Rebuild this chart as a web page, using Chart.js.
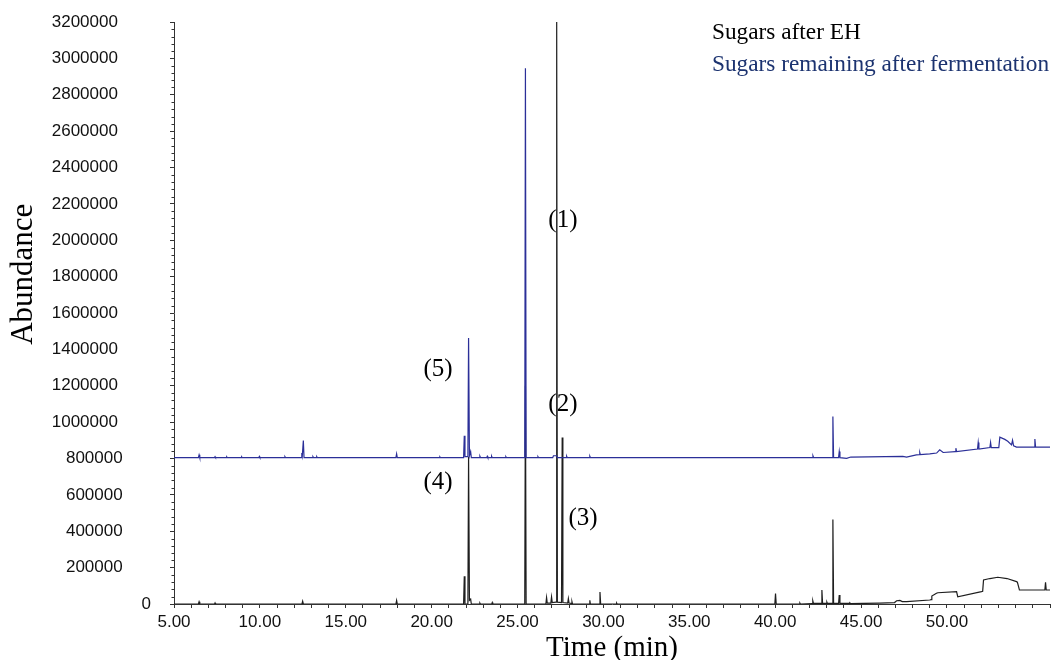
<!DOCTYPE html>
<html><head><meta charset="utf-8">
<script src="https://cdn.jsdelivr.net/npm/chart.js@4.4.1/dist/chart.umd.min.js"></script>
<style>html,body{margin:0;padding:0;background:#fff;}#wrap{width:1052px;height:660px;}</style>
</head><body><div id="wrap"><canvas id="c" width="1052" height="660"></canvas></div>
<script>
// ---- data ----
const seriesNames = ['Sugars after EH', 'Sugars remaining after fermentation'];

const blackTime = [5.00,6.42,6.46,6.50,7.36,7.39,7.42,12.45,12.49,12.53,17.92,17.96,18.00,
  21.86,21.90,21.94,22.11,22.15,22.20,22.27,22.31,22.78,22.81,22.84,23.50,23.53,23.56,
  25.42,25.46,25.50,26.65,26.69,26.73,26.94,26.98,27.02,27.24,27.28,27.32,27.56,27.60,27.64,
  27.92,27.96,28.00,28.14,28.17,28.20,29.18,29.21,29.24,29.76,29.80,29.84,30.74,30.77,30.80,
  39.98,40.02,40.06,41.41,41.44,41.47,42.15,42.19,42.23,42.68,42.72,42.76,42.98,43.01,43.04,
  43.32,43.36,43.40,43.69,43.73,43.77,44.32,44.35,44.40,45.10,46.10,46.95,47.07,47.26,47.40,
  47.65,49.00,49.08,49.12,49.39,49.47,50.56,50.63,52.01,52.08,52.13,52.50,52.96,53.50,54.05,
  54.10,54.22,55.70,55.74,55.78,56.00];
const blackAbund = [0,0,12000,0,0,6000,0,0,15000,0,0,20000,0,
  0,152000,0,0,810000,20000,27000,0,0,5000,0,0,8000,0,
  0,1200000,0,0,36000,5000,5000,39000,8000,10000,3210000,10000,8000,915000,8000,
  5000,30000,5000,3000,12000,0,0,20000,0,0,66000,0,0,5000,0,
  0,58000,0,0,5000,0,2000,18000,3000,3000,77000,3000,3000,10000,3000,
  3000,465000,3000,3000,49000,3000,3000,6000,2000,3000,5000,8000,18000,20000,13000,
  13000,22000,24000,44000,59000,62000,68000,40000,68000,70000,132000,140000,147000,140000,123000,
  120000,77000,77000,119000,77000,77000];

const blueTime = [5.00,6.42,6.46,6.50,7.36,7.39,7.42,8.04,8.07,8.10,8.91,8.94,8.97,9.94,9.97,10.00,
  11.43,11.46,11.49,12.40,12.44,12.47,12.53,12.57,13.06,13.09,13.12,13.28,13.31,13.34,
  17.92,17.96,18.00,20.45,20.48,20.51,21.86,21.90,21.94,22.11,22.15,22.20,22.27,22.31,
  22.78,22.81,22.84,23.21,23.24,23.27,23.46,23.49,23.52,24.29,24.32,24.35,25.42,25.46,25.50,
  26.16,26.19,26.22,27.05,27.09,27.28,27.32,27.83,27.86,27.89,29.18,29.21,29.24,
  42.16,42.20,42.24,43.32,43.36,43.40,43.69,43.73,43.77,44.16,44.40,47.43,47.65,48.22,48.40,
  48.42,48.45,49.00,49.40,49.58,49.78,50.48,50.52,50.56,51.78,51.82,51.86,52.50,52.54,52.58,
  53.02,53.08,53.37,53.54,53.76,53.82,53.88,54.05,55.08,55.12,55.16,56.00];
const blueAbund = [805000,805000,820000,805000,805000,810000,805000,805000,809000,805000,805000,809000,805000,805000,811000,805000,
  805000,810000,805000,805000,830000,815000,899000,805000,805000,810000,805000,805000,810000,805000,
  805000,826000,805000,805000,809000,805000,805000,925000,810000,810000,1462000,815000,838000,805000,
  805000,812000,805000,805000,812000,805000,805000,812000,805000,805000,810000,805000,805000,2946000,805000,
  805000,810000,805000,805000,815000,815000,805000,805000,812000,805000,805000,812000,805000,
  805000,815000,805000,805000,1031000,805000,805000,838000,805000,801000,808000,812000,808000,820000,821000,
  832000,821000,825000,830000,848000,833000,838000,857000,838000,852000,888000,852000,860000,888000,860000,
  860000,917000,905000,895000,875000,900000,870000,863000,863000,907000,863000,863000];

const peakLabels = ['(1)','(2)','(3)','(4)','(5)'];
const peakLabelTime = [27.64, 27.64, 28.81, 20.37, 20.37];
const peakLabelAbund = [2111000, 1095000, 469000, 666000, 1287000];

const yTickValues = [0,200000,400000,600000,800000,1000000,1200000,1400000,1600000,1800000,2000000,2200000,2400000,2600000,2800000,3000000,3200000];
const xTickLabels = ['5.00','10.00','15.00','20.00','25.00','30.00','35.00','40.00','45.00','50.00'];

// ---- styling ----
const BLACK = '#1e1e1e', BLUE = '#2b2f98';
const LEGEND_COLORS = ['#000000', '#1c3370'];
const AXIS = '#333333';

const toPts = (t, v) => t.map((x, i) => ({x: x, y: v[i]}));

const overlay = {
  id: 'overlay',
  afterDraw(chart) {
    const ctx = chart.ctx, xs = chart.scales.x, ys = chart.scales.y;
    ctx.save();
    // minor y ticks
    ctx.strokeStyle = AXIS; ctx.lineWidth = 1;
    for (let v = 0; v <= 3200000; v += 40000) {
      if (v % 200000 === 0) continue;
      const y = Math.round(ys.getPixelForValue(v)) + 0.5;
      ctx.beginPath(); ctx.moveTo(xs.left - 2.5, y); ctx.lineTo(xs.left, y); ctx.stroke();
    }
    // peak labels
    ctx.fillStyle = '#000';
    ctx.font = '25px "Liberation Serif", "Times New Roman", serif';
    ctx.textAlign = 'center'; ctx.textBaseline = 'middle';
    peakLabels.forEach((s, i) => {
      ctx.fillText(s, xs.getPixelForValue(peakLabelTime[i]), ys.getPixelForValue(peakLabelAbund[i]));
    });
    // legend
    ctx.font = '23.3px "Liberation Serif", "Times New Roman", serif';
    ctx.textAlign = 'left'; ctx.textBaseline = 'alphabetic';
    seriesNames.forEach((s, i) => {
      ctx.fillStyle = LEGEND_COLORS[i];
      ctx.fillText(s, 712, 39 + i * 32);
    });
    ctx.restore();
  }
};

new Chart(document.getElementById('c'), {
  type: 'line',
  data: {
    datasets: [
      { label: seriesNames[1], data: toPts(blueTime, blueAbund), borderColor: BLUE, borderWidth: 1.2,
        pointRadius: 0, tension: 0, fill: false, order: 0 },
      { label: seriesNames[0], data: toPts(blackTime, blackAbund), borderColor: BLACK, borderWidth: 1.2,
        pointRadius: 0, tension: 0, fill: false, order: 1 }
    ]
  },
  options: {
    responsive: false, animation: false, devicePixelRatio: 1,
    layout: { padding: { left: 0, right: 2, top: 22, bottom: 0 } },
    plugins: { legend: { display: false }, tooltip: { enabled: false } },
    scales: {
      x: {
        type: 'linear', min: 5, max: 56,
        afterFit: s => { s.height = 56; s.paddingLeft = 0; s.paddingRight = 0; },
        grid: { drawOnChartArea: false, tickLength: 4, color: AXIS },
        border: { color: AXIS, width: 1 },
        ticks: {
          stepSize: 1, autoSkip: false, maxRotation: 0, padding: 4, color: '#111',
          font: { family: '"Liberation Sans", Arial, sans-serif', size: 17 },
          callback: v => { const i = (v - 5) / 5; return Number.isInteger(i) && i < xTickLabels.length ? xTickLabels[i] : ''; }
        },
        title: { display: true, text: 'Time (min)', color: '#000', padding: { top: 0, bottom: -6 },
          font: { family: '"Liberation Serif", "Times New Roman", serif', size: 29 } }
      },
      y: {
        type: 'linear', min: 0, max: 3200000,
        afterFit: s => { s.width = 174; s.paddingTop = 0; s.paddingBottom = 0; },
        afterBuildTicks: s => { s.ticks = yTickValues.map(v => ({value: v})); },
        grid: { drawOnChartArea: false, tickLength: 4, color: AXIS },
        border: { color: AXIS, width: 1 },
        ticks: {
          padding: 19, color: '#111',
          font: { family: '"Liberation Sans", Arial, sans-serif', size: 17 },
          callback: v => { const s = String(v); return v === 0 ? s : s + ' '.repeat(s.length === 6 ? 6 : 7); }
        },
        title: { display: true, text: '          Abundance', color: '#000', padding: { top: 5, bottom: 0 },
          font: { family: '"Liberation Serif", "Times New Roman", serif', size: 31 } }
      }
    }
  },
  plugins: [overlay]
});
</script></body></html>
